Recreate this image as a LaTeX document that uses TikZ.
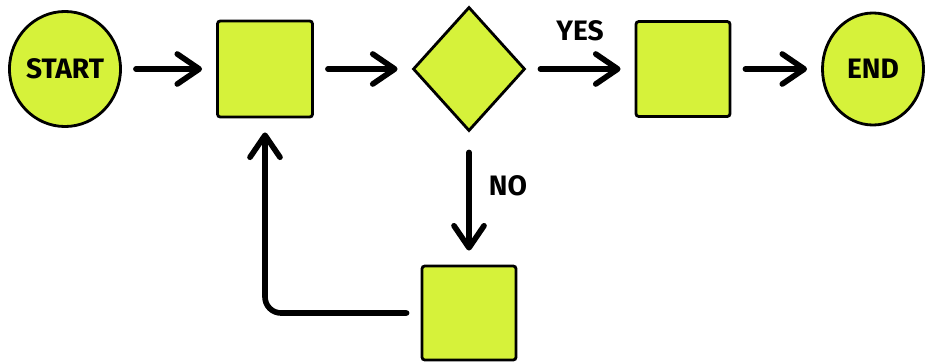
\documentclass[tikz,border=0pt]{standalone}
\usepackage{fontspec}
\setmainfont{Fira Sans}
\usetikzlibrary{shapes.geometric,arrows.meta}
\definecolor{lime}{RGB}{214,242,58}

\begin{document}
\begin{tikzpicture}[x=0.025cm,y=-0.025cm,
        font=\bfseries\fontsize{20}{24}\selectfont,
        flow/.style={line width=4pt,line cap=round,line join=round,
            -{Straight Barb[length=0.55cm,width=0.75cm,line cap=round,line join=round]},
            shorten <=0.35cm,shorten >=0.35cm}]
    \useasboundingbox (0,0) rectangle (926,362);
    \begin{scope}[every node/.style={draw,line width=2pt,fill=lime,inner sep=0pt}]
        % Top row
        \node[ellipse,minimum width=2.775cm,minimum height=2.875cm] (start) at (65,69) {START};
        \node[rounded corners=2pt,minimum width=2.375cm,minimum height=2.4cm] (task) at (265,69) {};
        \node[diamond,minimum width=2.8cm,minimum height=3.1cm] (check) at (469,69) {};
        \node[rounded corners=2pt,minimum width=2.35cm,minimum height=2.375cm] (done) at (683,69) {};
        \node[ellipse,minimum width=2.525cm,minimum height=2.8cm] (stop) at (873,69) {END};

        % Bottom row
        \node[rounded corners=2pt,minimum width=2.35cm,minimum height=2.35cm] (redo) at (469,313) {};
    \end{scope}

    \node (yes) at (580,31) {YES};
    \node (no) at (508,186) {NO};

    \draw[flow] (start) -- (task);
    \draw[flow] (task) -- (check);
    \draw[flow] (check) -- (done);
    \draw[flow] (done) -- (stop);
    \draw[flow,shorten <=0.5cm] (check) -- (redo);
    \draw[flow,rounded corners=0.4cm] (redo) -| (task);
\end{tikzpicture}
\end{document}
